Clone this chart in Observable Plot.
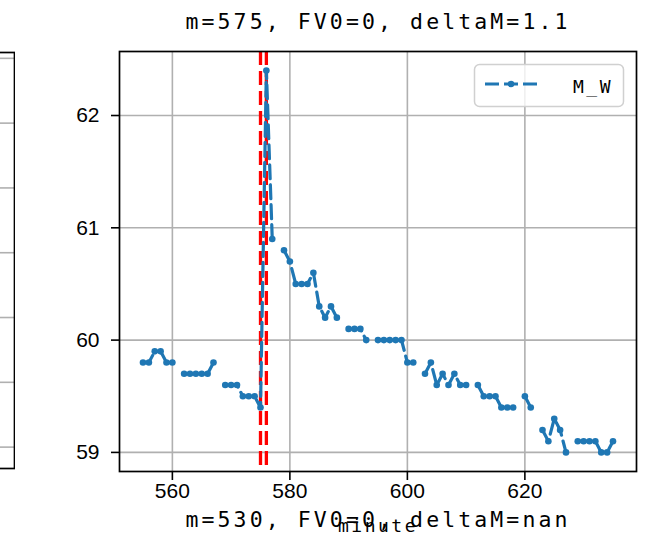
<!DOCTYPE html>
<html><head><meta charset="utf-8">
<script src="https://cdn.jsdelivr.net/npm/d3@7"></script>
<script src="https://cdn.jsdelivr.net/npm/@observablehq/plot@0.6"></script>
<style>
body{margin:0;background:#fff;}
#wrap{position:relative;width:646px;height:551px;overflow:hidden;background:#fff;}
#main,#left,#legend{position:absolute;top:0;}
#main{left:0;}
#left{left:-15px;}
#legend{left:0;pointer-events:none;}
g[aria-label="x-axis tick label"], g[aria-label="y-axis tick label"],
g[aria-label="x-axis tick label"] text, g[aria-label="y-axis tick label"] text{font-size:21px !important;font-family:'Liberation Sans', Arial, sans-serif;}
</style>
</head><body>
<div id="wrap"><div id="left"></div><div id="main"></div><div id="legend"></div></div>
<script>
// ---- data ----
const titleText = "m=575, FV0=0, deltaM=1.1";
const nextTitleText = "m=530, FV0=0, deltaM=nan";
const xLabel = "minute";
const seriesName = "M_W";
const xTicks = [560, 580, 600, 620];
const yTicks = [59, 60, 61, 62];
const eventMinutes = [575, 576];
const minutes = [555,556,557,558,559,560,562,563,564,565,566,567,569,570,571,572,573,574,575,576,577,579,580,581,582,583,584,585,586,587,588,590,591,592,593,595,596,597,598,599,600,601,603,604,605,606,607,608,609,610,612,613,614,615,616,617,618,620,621,623,624,625,626,627,629,630,631,632,633,634,635];
const mW = [59.8,59.8,59.9,59.9,59.8,59.8,59.7,59.7,59.7,59.7,59.7,59.8,59.6,59.6,59.6,59.5,59.5,59.5,59.4,62.4,60.9,60.8,60.7,60.5,60.5,60.5,60.6,60.3,60.2,60.3,60.2,60.1,60.1,60.1,60.0,60.0,60.0,60.0,60.0,60.0,59.8,59.8,59.7,59.8,59.6,59.7,59.6,59.7,59.6,59.6,59.6,59.5,59.5,59.5,59.4,59.4,59.4,59.5,59.4,59.2,59.1,59.3,59.2,59.0,59.1,59.1,59.1,59.1,59.0,59.0,59.1];
const leftPanelGrid = [0,1,2,3,4,5,6];

// missing minutes break the line
const series = [];
minutes.forEach((m, i) => {
  if (i > 0 && m - minutes[i-1] > 1) series.push({minute: m - 1, value: NaN});
  series.push({minute: m, value: mW[i]});
});

const blue = "#1f77b4";
const grid = {stroke: "#b0b0b0", strokeOpacity: 1, strokeWidth: 1.6};
const mono = "'DejaVu Sans Mono', monospace";
const sans = "'Liberation Sans', Arial, sans-serif";

const main = Plot.plot({
  width: 646, height: 551,
  marginTop: 51, marginBottom: 80, marginLeft: 119, marginRight: 10,
  style: {fontFamily: sans, fontSize: "21px", color: "#000", background: "transparent", overflow: "visible"},
  x: {domain: [551, 639]},
  y: {domain: [58.83, 62.57]},
  marks: [
    Plot.gridX(xTicks, grid),
    Plot.gridY(yTicks, grid),
    Plot.ruleX(eventMinutes, {stroke: "red", strokeWidth: 3.3, strokeDasharray: "14,6"}),
    Plot.line(series, {x: "minute", y: "value", stroke: blue, strokeWidth: 3.2, strokeDasharray: "14,6"}),
    Plot.dot(series, {x: "minute", y: "value", r: 3.3, fill: blue}),
    Plot.frame({stroke: "#000", strokeWidth: 1.7}),
    Plot.axisX(xTicks, {tickSize: 9, tickPadding: 3, label: null, strokeWidth: 1.6, fontSize: 21, tickFormat: d3.format("d")}),
    Plot.axisY(yTicks, {tickSize: 8, tickPadding: 12, label: null, strokeWidth: 1.6, fontSize: 21, tickFormat: d3.format("d")}),
    Plot.text([titleText], {frameAnchor: "top", lineAnchor: "bottom", dy: -22.5, fontFamily: mono, fontSize: 21.5, fill: "#000"}),
    Plot.text([nextTitleText], {frameAnchor: "bottom", lineAnchor: "bottom", dy: 55.7, fontFamily: mono, fontSize: 21.5, fill: "#000"}),
    Plot.text([xLabel], {frameAnchor: "bottom", lineAnchor: "bottom", dy: 60, fontFamily: mono, fontSize: 18, fill: "#000"})
  ]
});
document.getElementById("main").appendChild(main);
d3.select(main).selectAll("text")
  .filter(function() { return this.textContent === titleText || this.textContent === nextTitleText; })
  .attr("letter-spacing", "3.1px").style("letter-spacing", "3.1px");
d3.select(main).selectAll("text")
  .filter(function() { return this.textContent === xLabel; })
  .attr("letter-spacing", "2.5px").style("letter-spacing", "2.5px");
// enforce tick label size on the axis texts
d3.select(main).selectAll("text")
  .filter(function() { return xTicks.map(String).includes(this.textContent) || yTicks.map(String).includes(this.textContent); })
  .attr("font-size", 21).style("font-size", "21px").style("font-family", sans);

const left = Plot.plot({
  width: 30, height: 551,
  marginTop: 52, marginBottom: 83, marginLeft: 10, marginRight: 1,
  y: {domain: [-0.33, 6.09], axis: null},
  style: {background: "transparent"},
  marks: [
    Plot.gridY(leftPanelGrid, grid),
    Plot.frame({stroke: "#000", strokeWidth: 1.7})
  ]
});
document.getElementById("left").appendChild(left);

// legend
const lg = d3.select("#legend").append("svg").attr("width", 646).attr("height", 551);
lg.append("rect").attr("x", 474.5).attr("y", 64.5).attr("width", 149).attr("height", 42)
  .attr("rx", 5).attr("fill", "rgba(255,255,255,0.8)").attr("stroke", "#d0d0d0").attr("stroke-width", 1.5);
lg.append("line").attr("x1", 485).attr("x2", 537).attr("y1", 84).attr("y2", 84)
  .attr("stroke", blue).attr("stroke-width", 3.2).attr("stroke-dasharray", "14,5");
lg.append("circle").attr("cx", 511).attr("cy", 84).attr("r", 3.3).attr("fill", blue);
lg.append("text").attr("x", 573).attr("y", 93).text(seriesName)
  .attr("font-family", "DejaVu Sans Mono, monospace").attr("font-size", 18)
  .attr("letter-spacing", "2.5px").attr("fill", "#000");
</script>
</body></html>
